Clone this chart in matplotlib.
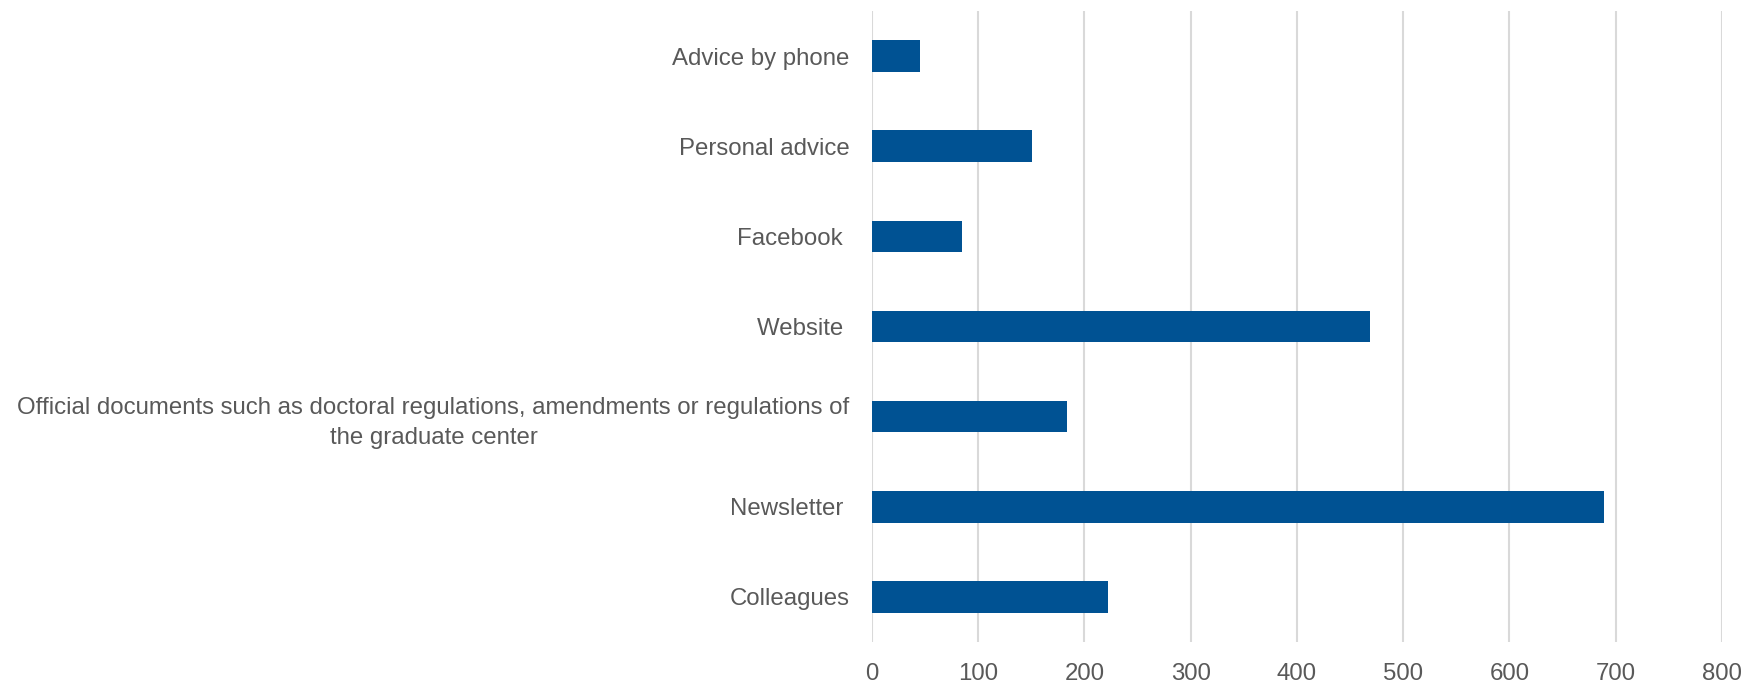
import matplotlib
matplotlib.use('Agg')
import matplotlib.pyplot as plt

# survey: where respondents get their information
categories = [
    'Colleagues',
    'Newsletter ',
    'Official documents such as doctoral regulations, amendments or regulations of\nthe graduate center',
    'Website ',
    'Facebook ',
    'Personal advice',
    'Advice by phone',
]
counts = [222, 689, 184, 469, 85, 151, 45]
x_ticks = [0, 100, 200, 300, 400, 500, 600, 700, 800]

plt.rcParams['font.family'] = ['Liberation Sans', 'DejaVu Sans']
grey_txt = '#595959'

fig = plt.figure(figsize=(17.53, 6.83), dpi=100)
ax = fig.add_axes([0.4974, 0.060, 0.4849, 0.924])

pos = list(range(len(categories)))
ax.barh(pos, counts, height=0.35, color='#005293', zorder=3)

ax.set_xlim(0, 800)
ax.set_ylim(-0.5, len(categories) - 0.5)
ax.set_xticks(x_ticks)
ax.set_xticklabels([str(t) for t in x_ticks])
ax.set_yticks(pos)
ax.set_yticklabels(categories, multialignment='center', linespacing=1.45)

ax.grid(axis='x', color='#D9D9D9', lw=1.5, zorder=0)
for s in ax.spines.values():
    s.set_visible(False)
ax.tick_params(axis='both', length=0, labelsize=17.3, labelcolor=grey_txt)
ax.tick_params(axis='y', pad=16)
ax.tick_params(axis='x', pad=15)

fig.savefig('out.png', dpi=100)
